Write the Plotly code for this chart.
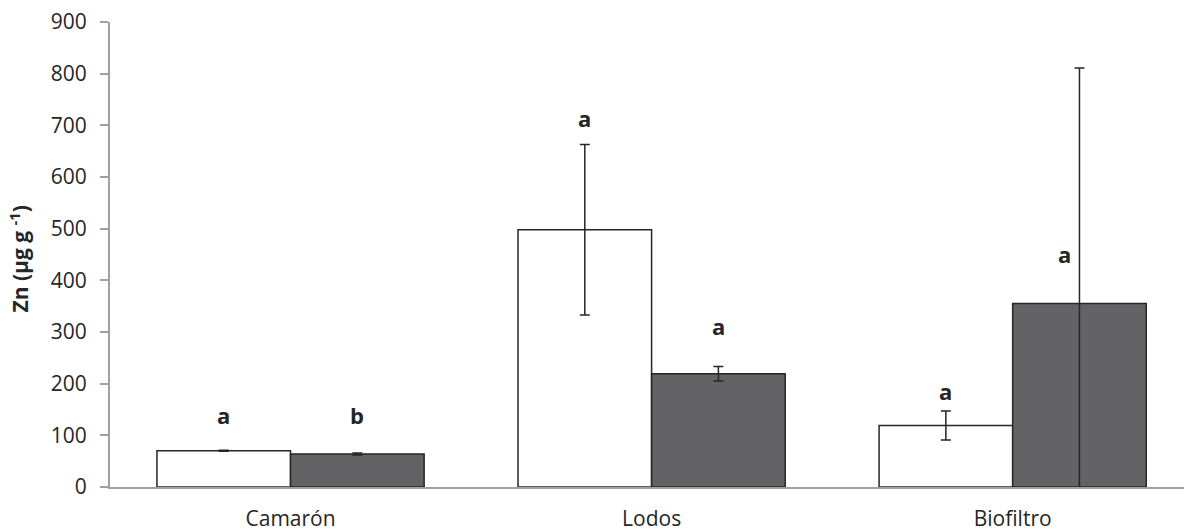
import plotly.graph_objects as go

# Zn concentration by compartment, two treatments
categories = ["Camarón", "Lodos", "Biofiltro"]
zn_white = [70, 498, 119]
zn_white_err = [1, 165, 28]
zn_gray = [64, 219, 355]
zn_gray_err = [2, 14, 456]

# significance letters and the height they sit at
letters_white = ["a", "a", "a"]
letters_white_y = [139, 715, 185]
letters_gray = ["b", "a", "a"]
letters_gray_y = [139, 312, 451]

y_ticks = [0, 100, 200, 300, 400, 500, 600, 700, 800, 900]

FONT = "Open Sans"
TXT = "#262626"
OUTLINE = "#262626"
AXIS = "#A0A0A0"

fig = go.Figure()
fig.add_trace(go.Bar(
    x=categories, y=zn_white, name="white",
    marker=dict(color="#FFFFFF", line=dict(color=OUTLINE, width=1.5)),
    error_y=dict(type="data", array=zn_white_err, visible=True,
                 color=OUTLINE, thickness=1.5, width=5),
))
fig.add_trace(go.Bar(
    x=categories, y=zn_gray, name="gray",
    marker=dict(color="#636365", line=dict(color=OUTLINE, width=1.5)),
    error_y=dict(type="data", array=zn_gray_err, visible=True,
                 color=OUTLINE, thickness=1.5, width=5),
))

bargap = 0.26
half = (1 - bargap) / 4  # centre offset of each bar within its group

annotations = []
for i in range(len(categories)):
    annotations.append(dict(
        x=i - half, y=letters_white_y[i], xref="x", yref="y",
        text=f"<b>{letters_white[i]}</b>", showarrow=False,
        font=dict(family=FONT, size=22, color=TXT),
    ))
    annotations.append(dict(
        x=i + half, y=letters_gray_y[i], xref="x", yref="y",
        text=f"<b>{letters_gray[i]}</b>", showarrow=False,
        xshift=-15 if i == 2 else 0,
        font=dict(family=FONT, size=22, color=TXT),
    ))

# y-axis title
annotations.append(dict(
    x=0, y=0.5, xref="paper", yref="paper", xshift=-91, yshift=-5,
    text="<b>Zn (µg g <sup>-1</sup>)</b>", textangle=-90, showarrow=False,
    xanchor="center", yanchor="middle",
    font=dict(family=FONT, size=21, color=TXT),
))

fig.update_layout(
    width=1184, height=532,
    margin=dict(l=110, r=0, t=22, b=43),
    paper_bgcolor="white", plot_bgcolor="white",
    barmode="group", bargap=bargap, bargroupgap=0,
    showlegend=False,
    font=dict(family=FONT, size=21, color=TXT),
    annotations=annotations,
)
fig.update_xaxes(
    type="category", range=[-0.5, 2.4745],
    showline=True, linecolor=AXIS, linewidth=2,
    ticks="", showgrid=False, zeroline=False,
    tickfont=dict(family=FONT, size=21, color=TXT),
    ticklabelstandoff=12,
)
fig.update_yaxes(
    range=[0, 900], tickvals=y_ticks,
    showline=True, linecolor=AXIS, linewidth=2,
    ticks="outside", ticklen=8, tickwidth=2, tickcolor=AXIS,
    showgrid=False, zeroline=False,
    tickfont=dict(family=FONT, size=21, color=TXT),
    ticklabelstandoff=9,
)

fig.write_html("out.html")
